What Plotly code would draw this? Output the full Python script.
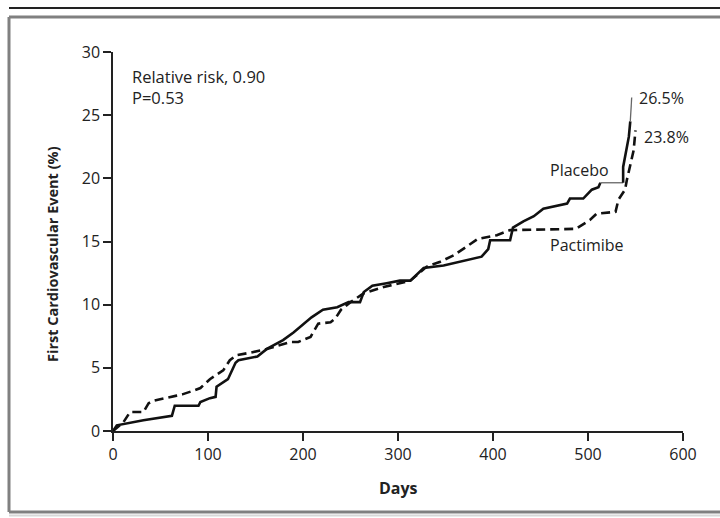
import plotly.graph_objects as go

# ---- data ----
placebo_days = [0, 4, 32, 62, 65, 90, 92, 102, 108, 109, 121, 129, 132, 152, 162, 179, 190, 202, 209,
                221, 236, 248, 260, 264, 273, 288, 302, 313, 327, 348, 373, 388, 395, 397, 418, 421,
                432, 443, 453, 478, 481, 495, 504, 511, 513, 537, 537, 543, 544.5, 546]
placebo_pct = [0, 0.45, 0.85, 1.2, 2.0, 2.0, 2.3, 2.6, 2.7, 3.5, 4.1, 5.4, 5.6, 5.9, 6.5, 7.2, 7.8, 8.6, 9.0,
               9.6, 9.8, 10.2, 10.2, 11.0, 11.5, 11.7, 11.9, 11.9, 12.9, 13.1, 13.5, 13.8, 14.4, 15.1, 15.1, 16.1,
               16.6, 17.0, 17.6, 18.0, 18.4, 18.4, 19.1, 19.3, 19.65, 19.65, 20.9, 23.3, 24.5, 26.4]

pactimibe_days = [0, 11, 18, 32, 37.5, 43, 67, 73, 85, 92, 102, 116, 123, 130, 144.5, 160, 176, 187, 195,
                  208, 216, 229, 234, 240, 250, 264, 285, 313, 330, 344.5, 358.5, 373, 384, 404, 418, 487,
                  502, 509, 529, 532, 539, 541, 548, 550]
pactimibe_pct = [0, 0.7, 1.5, 1.5, 2.2, 2.4, 2.8, 2.9, 3.2, 3.4, 4.1, 4.8, 5.6, 6.0, 6.2, 6.45, 6.8, 7.05, 7.05,
                 7.45, 8.5, 8.6, 8.9, 9.6, 10.2, 10.9, 11.4, 11.9, 13.0, 13.4, 13.9, 14.6, 15.2, 15.5, 15.9, 16.0,
                 16.7, 17.2, 17.35, 18.3, 19.1, 19.9, 22.2, 23.8]

x_ticks = [0, 100, 200, 300, 400, 500, 600]
y_ticks = [0, 5, 10, 15, 20, 25, 30]

placebo_label, placebo_end_label = "Placebo", "26.5%"
pactimibe_label, pactimibe_end_label = "Pactimibe", "23.8%"
stats_text = "Relative risk, 0.90<br>P=0.53"

# thin (grey) spans of the placebo curve, in days
thin_spans = [(513, 537), (544.5, 546)]

FONT = "Open Sans"
W, H = 720, 518
ML, MT = 113, 52
PW, PH = 570, 379
MR, MB = W - ML - PW, H - MT - PH


def px(xp):  # window pixel x -> paper
    return (xp - ML) / PW


def py(yp):  # window pixel y -> paper
    return (MT + PH - yp) / PH


fig = go.Figure()

# placebo: split into thick/thin segments
segs = []
cur = [(placebo_days[0], placebo_pct[0])]
cur_thin = False
for i in range(1, len(placebo_days)):
    a, b = placebo_days[i - 1], placebo_days[i]
    thin = any(a >= s and b <= e and b > a for s, e in thin_spans)
    if thin != cur_thin and len(cur) > 1:
        segs.append((cur_thin, cur))
        cur = [(a, placebo_pct[i - 1])]
    cur_thin = thin
    cur.append((b, placebo_pct[i]))
segs.append((cur_thin, cur))

for thin, pts in segs:
    fig.add_trace(go.Scatter(
        x=[p[0] for p in pts], y=[p[1] for p in pts], mode="lines",
        line=dict(color="#666666" if thin else "#111111", width=1.3 if thin else 2.6),
        showlegend=False, hoverinfo="skip"))

fig.add_trace(go.Scatter(
    x=pactimibe_days, y=pactimibe_pct, mode="lines",
    line=dict(color="#111111", width=2.6, dash="9px,5px"),
    showlegend=False, hoverinfo="skip"))

txt = dict(family=FONT, size=16, color="#222222")
fig.add_annotation(x=552, y=26.36, text=placebo_end_label, showarrow=False, xanchor="left", yanchor="middle", font=txt)
fig.add_annotation(x=557, y=23.3, text=pactimibe_end_label, showarrow=False, xanchor="left", yanchor="middle", font=txt)
fig.add_annotation(x=458, y=20.66, text=placebo_label, showarrow=False, xanchor="left", yanchor="middle", font=txt)
fig.add_annotation(x=458, y=14.75, text=pactimibe_label, showarrow=False, xanchor="left", yanchor="middle", font=txt)
fig.add_annotation(xref="paper", yref="paper", x=px(130), y=py(63), text=stats_text, showarrow=False,
                   xanchor="left", yanchor="top", align="left", font=dict(family=FONT, size=16.5, color="#222222"))

# axis titles
fig.add_annotation(xref="paper", yref="paper", x=0.5, y=py(488), text="<b>Days</b>", showarrow=False,
                   xanchor="center", yanchor="middle", font=dict(family=FONT, size=16, color="#222222"))
fig.add_annotation(xref="paper", yref="paper", x=px(52), y=py(254), text="<b>First Cardiovascular Event (%)</b>",
                   showarrow=False, textangle=-90, xanchor="center", yanchor="middle",
                   font=dict(family=FONT, size=14.5, color="#222222"))

# frame (left, top, bottom sides only; right side lies outside the picture) and top rule
frame = dict(color="#808080", width=3)
fig.add_shape(type="line", xref="paper", yref="paper", x0=px(9), x1=px(740), y0=py(8), y1=py(8),
              line=dict(color="#222222", width=2))
fig.add_shape(type="line", xref="paper", yref="paper", x0=px(9), x1=px(9), y0=py(512), y1=py(17), line=frame)
fig.add_shape(type="line", xref="paper", yref="paper", x0=px(9), x1=px(740), y0=py(17), y1=py(17), line=frame)
fig.add_shape(type="line", xref="paper", yref="paper", x0=px(9), x1=px(740), y0=py(512), y1=py(512), line=frame)
fig.add_shape(type="line", xref="paper", yref="paper", x0=px(9), x1=px(740), y0=py(515.5), y1=py(515.5),
              line=dict(color="#d8d8d8", width=2))

axis_common = dict(showgrid=False, zeroline=False, showline=True, linecolor="#222222", linewidth=1.5,
                   ticks="outside", ticklen=8, tickwidth=1.5, tickcolor="#222222",
                   tickfont=dict(family=FONT, size=16, color="#222222"))
fig.update_xaxes(range=[0, 600], tickvals=x_ticks, ticktext=[str(v) for v in x_ticks], **axis_common)
fig.update_yaxes(range=[0, 30], tickvals=y_ticks, ticktext=[str(v) for v in y_ticks], **axis_common)

fig.update_layout(width=W, height=H, margin=dict(l=ML, r=MR, t=MT, b=MB),
                  plot_bgcolor="white", paper_bgcolor="white", showlegend=False)

fig.write_html("out.html", config={"displayModeBar": False},
               post_script="document.body.style.margin='0';document.body.style.overflow='hidden';")
